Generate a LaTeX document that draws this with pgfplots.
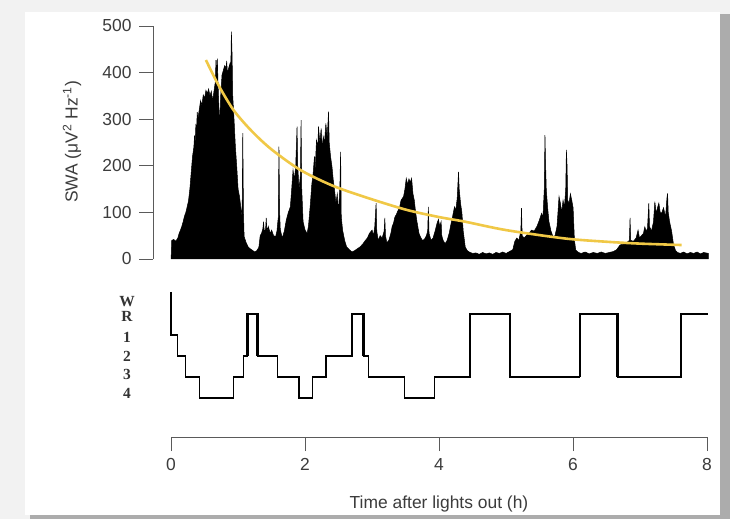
\documentclass[border=0pt]{standalone}
\usepackage{fontspec}
\setmainfont{Liberation Sans}
\newfontfamily\hypfont{Liberation Serif}
\usepackage{pgfplots}
\pgfplotsset{compat=1.18}
\definecolor{txt}{RGB}{60,60,60}
\definecolor{axc}{RGB}{90,90,90}
\definecolor{swayel}{RGB}{240,200,70}
\definecolor{bgc}{RGB}{242,242,242}
\begin{document}
\begin{tikzpicture}
% background card
\fill[bgc] (0,0) rectangle (730bp,519bp);
\fill[gray!65] (30bp,0bp) rectangle (730bp,505bp);
\fill[white] (25bp,4bp) rectangle (720bp,507bp);

% ---------- SWA panel ----------
\begin{axis}[
  at={(153bp,260bp)}, anchor=south west,
  x=67bp, y=0.466bp,
  xmin=-0.27, xmax=8.05, ymin=0, ymax=500,
  axis x line=none, axis y line*=left,
  clip=false,
  ytick={0,100,200,300,400,500},
  tick align=outside, major tick length=14bp,
  every tick/.style={axc, line width=0.8bp},
  y axis line style={axc, line width=0.8bp},
  /pgf/number format/assume math mode=true,
  yticklabel style={font=\fontsize{17.5}{18}\selectfont, text=txt, xshift=-4bp},
]
\addplot[fill=black, draw=black, line width=0.5bp] table {
t v
0.00 0
0.01 40
0.04 42
0.07 38
0.10 45
0.12 55
0.14 62
0.16 70
0.18 80
0.20 92
0.22 100
0.24 112
0.26 125
0.28 150
0.30 185
0.32 220
0.34 240
0.35 265
0.36 250
0.37 290
0.38 275
0.39 315
0.40 300
0.42 320
0.44 340
0.46 330
0.48 352
0.50 345
0.52 362
0.54 355
0.56 365
0.58 350
0.60 360
0.62 340
0.64 360
0.66 380
0.67 427
0.68 400
0.69 430
0.70 380
0.72 300
0.73 310
0.74 350
0.76 395
0.78 405
0.80 415
0.82 410
0.83 425
0.84 400
0.86 410
0.88 420
0.89 400
0.90 488
0.91 440
0.92 350
0.94 298
0.96 240
0.98 198
1.00 150
1.02 135
1.04 112
1.06 90
1.07 270
1.08 100
1.09 48
1.12 35
1.15 26
1.18 22
1.22 18
1.25 15
1.28 18
1.31 25
1.33 50
1.35 55
1.37 65
1.38 80
1.39 60
1.41 63
1.42 88
1.43 60
1.45 70
1.48 55
1.50 62
1.53 50
1.56 48
1.58 60
1.60 90
1.61 241
1.62 100
1.63 63
1.66 45
1.69 60
1.72 84
1.75 100
1.78 112
1.80 150
1.82 191
1.84 170
1.86 200
1.88 284
1.89 200
1.91 150
1.93 180
1.94 298
1.95 150
1.97 80
2.00 62
2.03 55
2.05 70
2.08 120
2.10 160
2.12 184
2.14 220
2.15 190
2.17 255
2.19 240
2.20 284
2.22 250
2.24 280
2.26 230
2.27 263
2.29 250
2.31 291
2.33 260
2.35 316
2.36 250
2.38 220
2.40 200
2.42 170
2.44 148
2.46 120
2.48 140
2.50 100
2.52 160
2.53 230
2.54 90
2.56 62
2.59 40
2.62 26
2.66 20
2.70 15
2.74 18
2.78 22
2.82 26
2.86 32
2.90 40
2.93 45
2.96 55
3.00 62
3.02 50
3.04 70
3.06 120
3.07 60
3.09 40
3.12 50
3.15 45
3.18 60
3.19 88
3.20 50
3.22 35
3.25 40
3.28 55
3.30 70
3.32 77
3.34 90
3.36 95
3.39 105
3.41 110
3.43 125
3.45 130
3.47 134
3.49 150
3.51 173
3.53 160
3.55 172
3.57 165
3.59 173
3.61 140
3.63 126
3.65 100
3.67 80
3.70 55
3.72 48
3.75 40
3.78 42
3.81 50
3.83 60
3.84 112
3.85 55
3.88 40
3.91 45
3.94 60
3.97 77
3.99 85
4.01 70
4.03 80
4.04 50
4.06 40
4.09 33
4.12 40
4.15 55
4.18 77
4.20 90
4.23 112
4.25 105
4.27 130
4.29 187
4.30 150
4.32 120
4.34 100
4.36 60
4.39 26
4.42 18
4.45 15
4.50 12
4.55 13
4.60 10
4.65 14
4.70 11
4.75 13
4.80 10
4.85 14
4.90 12
4.95 15
5.00 12
5.05 16
5.10 20
5.13 38
5.16 45
5.19 40
5.22 60
5.23 109
5.24 50
5.27 45
5.30 50
5.34 55
5.38 62
5.42 60
5.46 70
5.48 77
5.50 85
5.53 98
5.55 90
5.57 150
5.58 266
5.59 200
5.60 148
5.62 110
5.64 80
5.67 60
5.70 48
5.73 50
5.76 70
5.79 134
5.81 120
5.83 100
5.85 126
5.87 110
5.89 150
5.90 234
5.91 200
5.92 126
5.94 120
5.96 140
5.98 126
6.00 110
6.02 40
6.04 19
6.08 14
6.12 12
6.18 15
6.24 11
6.30 14
6.36 12
6.42 15
6.48 12
6.54 14
6.60 16
6.65 20
6.70 30
6.75 32
6.80 35
6.84 40
6.85 88
6.86 40
6.90 38
6.94 45
6.97 62
6.99 45
7.02 50
7.05 55
7.07 69
7.09 60
7.11 65
7.13 120
7.14 70
7.17 60
7.20 80
7.22 123
7.24 98
7.26 110
7.28 120
7.30 100
7.32 98
7.35 110
7.38 90
7.40 130
7.41 141
7.42 100
7.44 80
7.47 60
7.50 30
7.53 18
7.56 14
7.60 12
7.65 15
7.70 11
7.75 14
7.80 12
7.85 15
7.90 11
7.95 14
8.02 12
8.02 0
} \closedcycle;
\addplot[swayel, line width=2.6bp, smooth] coordinates {
(0.52,427) (0.70,375) (0.93,320) (1.20,275) (1.50,235) (1.93,191)
(2.40,158) (2.87,134) (3.50,106) (4.00,90) (4.39,80) (5.00,62)
(5.88,44) (6.50,37) (7.00,33) (7.62,30)
};
\end{axis}

% ---------- Hypnogram ----------
\begin{axis}[
  at={(153bp,121bp)}, anchor=south west,
  x=67bp, y=21bp,
  xmin=-0.27, xmax=8.05, ymin=0, ymax=5,
  axis x line=none, axis y line*=left,
  y axis line style={draw=none},
  clip=false,
  ytick={0.24,1.14,2,2.9,3.86,4.57},
  yticklabels={4,3,2,1,R,W},
  major tick length=0pt,
  yticklabel style={font=\hypfont\bfseries\fontsize{15.5}{16}\selectfont, text=black!80, anchor=center, xshift=-26bp},
]
\addplot[const plot, black, line width=1.3bp] coordinates {
(0,5) (0,3) (0.095,2) (0.21,1) (0.42,0) (0.93,1) (1.08,2) (1.14,4)
(1.29,2) (1.59,1) (1.91,0) (2.11,1) (2.31,2) (2.70,4) (2.87,2) (2.95,1)
(3.48,0) (3.93,1) (4.46,4) (5.06,1) (6.10,4) (6.66,1) (7.61,4) (8.02,4)
};
\addplot[black, line width=2.2bp] coordinates {(0,5.05) (0,3)};
\addplot[black, line width=2.4bp] coordinates {(1.14,2) (1.14,4) (1.29,4) (1.29,2)};
\addplot[black, line width=2.4bp] coordinates {(2.70,2) (2.70,4) (2.87,4) (2.87,2)};
\addplot[black, line width=2.4bp] coordinates {(4.46,1) (4.46,4) (5.06,4) (5.06,1)};
\addplot[black, line width=2.4bp] coordinates {(6.10,1) (6.10,4) (6.66,4) (6.66,1)};
\addplot[black, line width=2.4bp] coordinates {(7.61,1) (7.61,4) (8.02,4)};
\addplot[black, line width=1.8bp] coordinates {(5.06,1) (6.10,1)};
\addplot[black, line width=1.8bp] coordinates {(6.66,1) (7.61,1)};
\end{axis}

% ---------- Time axis ----------
\begin{axis}[
  at={(171bp,82bp)}, anchor=south west,
  x=67bp, y=1bp,
  xmin=0, xmax=8, ymin=0, ymax=1,
  axis x line*=bottom, axis y line=none,
  xtick={0,2,4,6,8},
  tick align=outside, major tick length=14bp,
  every tick/.style={axc, line width=0.8bp},
  x axis line style={axc, line width=0.8bp},
  /pgf/number format/assume math mode=true,
  xticklabel style={font=\fontsize{17.5}{18}\selectfont, text=txt, yshift=-4bp},
  xlabel={Time after lights out (h)},
  xlabel style={font=\fontsize{17.5}{18}\selectfont, text=txt, yshift=-18bp},
]
\end{axis}

\node[rotate=90, text=txt, font=\fontsize{17.5}{18}\selectfont] at (72bp,377bp)
  {SWA (μV\textsuperscript{2} Hz\textsuperscript{-1})};
\end{tikzpicture}
\end{document}
